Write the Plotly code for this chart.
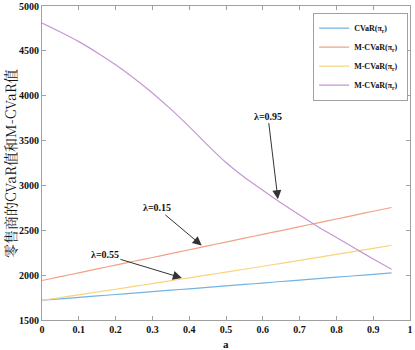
import plotly.graph_objects as go

a_vals = [0, 0.05, 0.1, 0.15, 0.2, 0.25, 0.3, 0.35, 0.4, 0.45, 0.5,
          0.55, 0.6, 0.65, 0.7, 0.75, 0.8, 0.85, 0.9, 0.95]
cvar_r = [1720, 1736, 1752, 1768, 1784, 1800, 1816, 1832, 1848, 1864, 1880,
          1896, 1912, 1929, 1945, 1961, 1977, 1993, 2009, 2025]
mcvar_015 = [1940, 1983, 2026, 2069, 2112, 2155, 2197, 2240, 2283, 2326, 2369,
             2412, 2455, 2497, 2540, 2583, 2626, 2669, 2712, 2754]
mcvar_055 = [1720, 1750, 1781, 1812, 1843, 1874, 1906, 1938, 1970, 2002, 2034,
             2066, 2099, 2132, 2165, 2198, 2231, 2265, 2299, 2333]
mcvar_095 = [4810, 4710, 4603, 4480, 4345, 4195, 4030, 3850, 3655, 3450, 3255,
             3090, 2945, 2805, 2670, 2540, 2420, 2300, 2180, 2065]

series_names = ["CVaR(π<sub>r</sub>)  ", "M-CVaR(π<sub>r</sub>)  ",
                "M-CVaR(π<sub>r</sub>)  ", "M-CVaR(π<sub>r</sub>)  "]
series_vals = [cvar_r, mcvar_015, mcvar_055, mcvar_095]
colors = ["#73b3e3", "#f2a184", "#f8d47c", "#c596d6"]

x_ticks = [0, 0.1, 0.2, 0.3, 0.4, 0.5, 0.6, 0.7, 0.8, 0.9, 1]
x_ticklabels = ["0", "0.1", "0.2", "0.3", "0.4", "0.5", "0.6", "0.7", "0.8", "0.9", "1"]
y_ticks = [1500, 2000, 2500, 3000, 3500, 4000, 4500, 5000]

# annotations: label, arrow head (a, value), text position (a, value)
ann_labels = ["λ=0.95", "λ=0.15", "λ=0.55"]
ann_heads = [(0.641, 2847), (0.434, 2331), (0.38, 1969)]
ann_texts = [(0.614, 3773), (0.3125, 2750), (0.171, 2228)]

serif = "Liberation Serif, Times New Roman, serif"

fig = go.Figure()
for name, vals, c in zip(series_names, series_vals, colors):
    fig.add_trace(go.Scatter(x=a_vals, y=vals, mode="lines", name=name,
                             line=dict(color=c, width=1.2, shape="spline", smoothing=0.6)))

for lab, (hx, hy), (tx, ty) in zip(ann_labels, ann_heads, ann_texts):
    fig.add_annotation(x=hx, y=hy, ax=tx, ay=ty, axref="x", ayref="y",
                       xref="x", yref="y", text=lab, showarrow=True,
                       arrowhead=2, arrowsize=1.8, arrowwidth=1, arrowcolor="#333",
                       font=dict(family=serif, size=10, color="#111", weight="bold"))

# axis titles as annotations for exact placement
fig.add_annotation(text="a", xref="paper", yref="paper", x=0.5, y=-0.075,
                   xanchor="center", yanchor="middle", showarrow=False,
                   font=dict(family=serif, size=11, color="#111", weight="bold"))
fig.add_annotation(text="零售商的CVaR值和M-CVaR值", xref="paper", yref="paper",
                   x=-0.087, y=0.5, xanchor="center", yanchor="middle", textangle=-90,
                   showarrow=False,
                   font=dict(family="Noto Serif CJK SC, Noto Sans CJK SC, serif", size=14, color="#111"))

axis_common = dict(showline=True, linecolor="#a0a0a0", linewidth=1, mirror="ticks",
                   ticks="inside", ticklen=4, tickcolor="#a0a0a0", showgrid=False,
                   zeroline=False, automargin=False, ticklabeloverflow="allow",
                   tickfont=dict(family=serif, size=10, color="#111", weight="bold"))

fig.update_layout(
    width=415, height=350,
    margin=dict(l=42, r=5, t=6, b=30),
    paper_bgcolor="white", plot_bgcolor="white",
    xaxis=dict(range=[0, 1], tickvals=x_ticks, ticktext=x_ticklabels, **axis_common),
    yaxis=dict(range=[1500, 5000], tickvals=y_ticks, **axis_common),
    legend=dict(x=0.995, y=0.979, xanchor="right", yanchor="top",
                bgcolor="white", bordercolor="#a0a0a0", borderwidth=1,
                font=dict(family=serif, size=8, color="#111", weight="bold"),
                itemwidth=30, tracegroupgap=0),
    showlegend=True,
)

fig.write_html("out.html", config={"displayModeBar": False},
               post_script="document.body.style.margin='0';document.body.style.overflow='hidden';")
